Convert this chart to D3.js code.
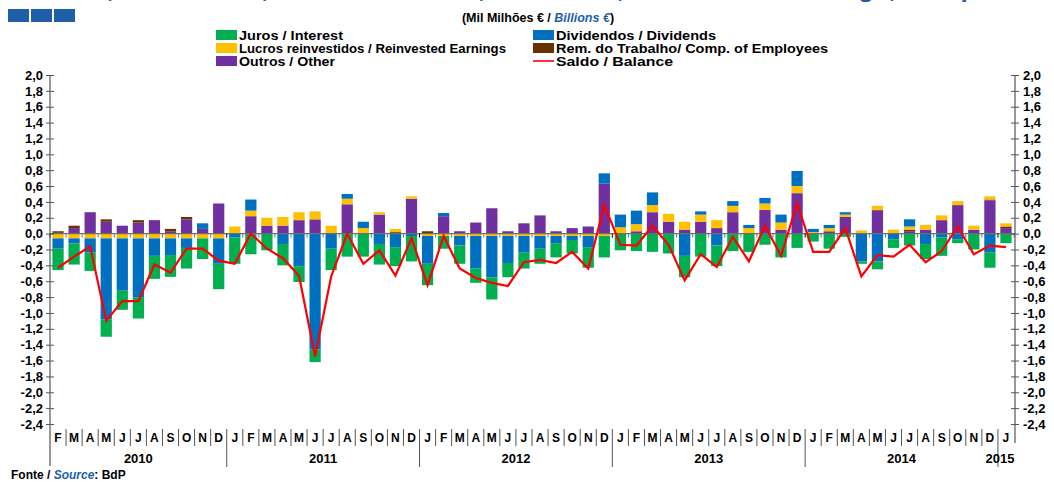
<!DOCTYPE html>
<html>
<head>
<meta charset="utf-8">
<script src="https://cdn.jsdelivr.net/npm/d3@7"></script>
<style>
  html, body { margin: 0; padding: 0; background: #fff; overflow: hidden; }
  svg { display: block; }
  text { font-family: "Liberation Sans", Arial, sans-serif; }
</style>
</head>
<body>
<svg id="chart" width="1054" height="482"></svg>
<script>
// ---------------- DATA ----------------
const monthLabels = ["F","M","A","M","J","J","A","S","O","N","D",
  "J","F","M","A","M","J","J","A","S","O","N","D",
  "J","F","M","A","M","J","J","A","S","O","N","D",
  "J","F","M","A","M","J","J","A","S","O","N","D",
  "J","F","M","A","M","J","J","A","S","O","N","D",
  "J"];
const yearLabels = ["2010","2011","2012","2013","2014","2015"];
const yearFirstIndex = [0, 11, 23, 35, 47, 59];

const juros = [-0.27,-0.265,-0.23,-0.22,-0.24,-0.27,-0.29,-0.275,-0.26,-0.26,-0.32,
  -0.33,-0.26,-0.21,-0.27,-0.20,-0.16,-0.27,-0.29,-0.29,-0.26,-0.24,-0.32,
  -0.27,-0.16,-0.23,-0.18,-0.28,-0.18,-0.20,-0.19,-0.18,-0.17,-0.26,-0.27,
  -0.21,-0.22,-0.23,-0.25,-0.27,-0.29,-0.26,-0.22,-0.23,-0.14,-0.30,-0.18,
  -0.10,-0.19,-0.04,-0.03,-0.10,-0.11,-0.15,-0.19,-0.23,-0.05,-0.20,-0.19,
  -0.12];
const dividendos = [-0.13,-0.065,-0.18,-1.02,-0.66,-0.74,-0.22,-0.21,-0.12,0.07,-0.32,
  -0.05,0.14,0,-0.13,-0.41,-1.46,-0.19,0.06,0.08,-0.13,-0.17,-0.03,
  -0.35,0.04,-0.12,-0.41,-0.52,-0.34,-0.21,-0.16,-0.09,-0.05,-0.14,0.13,
  0.16,0.17,0.16,0,-0.28,0.04,-0.15,0.06,0.04,0.07,0.10,0.19,
  0.04,0.04,0.03,-0.35,-0.35,-0.07,0.09,-0.13,-0.05,-0.07,0,-0.24,
  0];
const lucros = [-0.06,-0.06,-0.06,-0.06,-0.06,-0.06,-0.06,-0.06,-0.06,-0.06,-0.06,
  0.09,0.07,0.10,0.11,0.10,0.10,0.10,0.07,0.07,0.03,0.04,0.03,
  -0.03,-0.03,-0.03,-0.03,-0.03,-0.03,-0.03,-0.03,-0.03,-0.03,-0.03,-0.03,
  0.08,0.09,0.09,0.10,0.10,0.09,0.10,0.08,0.07,0.08,0.09,0.09,
  0.02,0.04,0.03,0.04,0.05,0.05,0.04,0.06,0.06,0.05,0.05,0.04,
  0.04];
const remuneracoes = [0.02,0.03,0,0.03,0,0.03,0,0.03,0.03,0,0,
  0,0,0,0,0,0,0,0,0,0,0.01,0,
  0.03,0,0,0,0,0,0,0,0,0,0,0,
  0,0,0,0,0,0,0,0,0,0,0,0,
  0,0,0,0,0.01,0,0.02,0,0,0,0,0.01,
  0.02];
const outros = [0.01,0.07,0.27,0.15,0.10,0.14,0.17,0.03,0.18,0.06,0.38,
  0,0.22,0.10,0.10,0.17,0.18,0,0.37,0,0.24,0.01,0.44,
  0,0.22,0.03,0.14,0.32,0.03,0.13,0.23,0.03,0.07,0.09,0.63,
  0,0.03,0.27,0.15,0.05,0.15,0.07,0.27,0,0.30,0.05,0.51,
  0,0.03,0.21,0,0.29,0,0.03,0.05,0.17,0.36,0.05,0.42,
  0.07];
const saldo = [-0.43,-0.29,-0.16,-1.10,-0.85,-0.85,-0.39,-0.49,-0.19,-0.19,-0.34,
  -0.38,0.0,-0.19,-0.31,-0.53,-1.55,-0.54,0.0,-0.38,-0.21,-0.53,-0.06,
  -0.65,-0.03,-0.44,-0.56,-0.62,-0.66,-0.36,-0.33,-0.37,-0.23,-0.44,0.36,
  -0.14,-0.15,0.10,-0.14,-0.59,-0.26,-0.42,-0.04,-0.35,0.10,-0.28,0.38,
  -0.23,-0.23,0.07,-0.54,-0.27,-0.29,-0.14,-0.36,-0.22,0.09,-0.26,-0.15,
  -0.17];
const yTicks = [-2.4,-2.2,-2.0,-1.8,-1.6,-1.4,-1.2,-1.0,-0.8,-0.6,-0.4,-0.2,0,0.2,0.4,0.6,0.8,1.0,1.2,1.4,1.6,1.8,2.0];

const seriesNames = {
  juros: "Juros / Interest",
  dividendos: "Dividendos / Dividends",
  lucros: "Lucros reinvestidos / Reinvested Earnings",
  remuneracoes: "Rem. do Trabalho/ Comp. of Employees",
  outros: "Outros / Other",
  saldo: "Saldo / Balance"
};
const colors = {
  juros: "#00b050", dividendos: "#0070c0", lucros: "#ffc000",
  remuneracoes: "#663300", outros: "#7030a0", saldo: "#ff0000"
};

// ---------------- BUILD ----------------
const rows = monthLabels.map((m, i) => ({
  i, juros: juros[i], dividendos: dividendos[i], lucros: lucros[i],
  remuneracoes: remuneracoes[i], outros: outros[i]
}));
const stackKeys = ["outros","remuneracoes","lucros","dividendos","juros"];
const stacked = d3.stack().keys(stackKeys).offset(d3.stackOffsetDiverging)(rows);

const svg = d3.select("#chart");
const L = 50, R = 1014, T = 75, B = 424;

const x = d3.scaleBand().domain(d3.range(monthLabels.length)).range([L, R])
  .paddingInner(0.3).paddingOuter(0.15);
const y = d3.scaleLinear().domain([-2.4, 2.0]).range([B, T]);
const fmt = v => d3.format(".1f")(v).replace("−","-").replace(".", ",");

// title (cut at the top edge, only the lower part shows, as in the source image)
svg.append("text").attr("x", 600).attr("y", -3).attr("text-anchor", "middle")
  .attr("font-size", 26).attr("font-weight", "bold").attr("fill", "#1f5fa8")
  .attr("font-style", "italic")
  .text("Juros, Dividendos, Lucros / Interest, Dividends, Reinvested Earnings, Comp. of Employees");

// bars
svg.append("g").selectAll("g").data(stacked).join("g")
  .attr("fill", d => colors[d.key])
  .selectAll("rect").data(d => d).join("rect")
  .attr("x", d => x(d.data.i))
  .attr("width", x.bandwidth())
  .attr("y", d => y(Math.max(d[0], d[1])))
  .attr("height", d => Math.abs(y(d[0]) - y(d[1])));

// zero line with month ticks
const y0 = y(0);
svg.append("line").attr("x1", L).attr("x2", R + 1).attr("y1", y0).attr("y2", y0)
  .attr("stroke", "#6e6e6e").attr("stroke-width", 1.3);
svg.append("g").selectAll("line").data(d3.range(monthLabels.length + 1)).join("line")
  .attr("x1", i => L + i * x.step()).attr("x2", i => L + i * x.step())
  .attr("y1", y0).attr("y2", y0 + 4)
  .attr("stroke", (i) => yearFirstIndex.includes(i) ? "#000" : "#777").attr("stroke-width", 1);

// saldo line
const line = d3.line().x((d, i) => x(i) + x.bandwidth() / 2).y(d => y(d));
svg.append("path").datum(saldo).attr("d", line)
  .attr("fill", "none").attr("stroke", colors.saldo).attr("stroke-width", 2.2)
  .attr("stroke-linejoin", "miter");

// y axes
function styleAxis(g, side) {
  g.select(".domain").remove();
  g.selectAll(".tick line").attr("x1", -4).attr("x2", 4).attr("stroke", "#555");
  g.selectAll(".tick text").attr("font-weight", "bold").attr("font-size", 13)
    .attr("fill", "#000").attr("font-family", "'Liberation Sans', Arial, sans-serif")
    .attr("x", side === "left" ? -7 : 8);
}
const axL = svg.append("g").attr("transform", `translate(${L},0)`)
  .call(d3.axisLeft(y).tickValues(yTicks).tickFormat(fmt).tickSize(4));
styleAxis(axL, "left");
const axR = svg.append("g").attr("transform", `translate(${R + 1},0)`)
  .call(d3.axisRight(y).tickValues(yTicks).tickFormat(fmt).tickSize(4));
styleAxis(axR, "right");
svg.append("line").attr("x1", L).attr("x2", L).attr("y1", T).attr("y2", 466)
  .attr("stroke", "#555").attr("stroke-width", 1.2);
svg.append("line").attr("x1", R + 1).attr("x2", R + 1).attr("y1", T).attr("y2", 443)
  .attr("stroke", "#555").attr("stroke-width", 1.2);

// month labels and separators
svg.append("g").selectAll("text").data(monthLabels).join("text")
  .attr("x", (d, i) => x(i) + x.bandwidth() / 2).attr("y", 442)
  .attr("text-anchor", "middle").attr("font-size", 12).attr("font-weight", "bold")
  .text(d => d);
svg.append("g").selectAll("line").data(d3.range(1, monthLabels.length)).join("line")
  .attr("x1", i => L + i * x.step()).attr("x2", i => L + i * x.step())
  .attr("y1", 429).attr("y2", i => yearFirstIndex.includes(i) ? 467 : 446)
  .attr("stroke", "#555").attr("stroke-width", 1);

// year labels
svg.append("g").selectAll("text").data(yearLabels).join("text")
  .attr("x", (d, k) => {
    const a = yearFirstIndex[k];
    const b = k + 1 < yearFirstIndex.length ? yearFirstIndex[k + 1] : monthLabels.length;
    return k === yearLabels.length - 1 ? L + a * x.step() + 2 : L + (a + b) / 2 * x.step();
  })
  .attr("y", 463).attr("text-anchor", "middle").attr("font-size", 13).attr("font-weight", "bold")
  .text(d => d);

// logo squares
svg.append("g").selectAll("rect").data([0, 1, 2]).join("rect")
  .attr("x", k => 8 + k * 23).attr("y", 9).attr("width", 21).attr("height", 13)
  .attr("fill", "#1f5fa8");

// subtitle
const sub = svg.append("text").attr("x", 538).attr("y", 22)
  .attr("text-anchor", "middle").attr("font-size", 12.5).attr("font-weight", "bold");
sub.append("tspan").text("(Mil Milhões € / ");
sub.append("tspan").attr("fill", "#1f5fa8").attr("font-style", "italic").text("Billions  €");
sub.append("tspan").text(")");

// legend
const legendItems = [
  { key: "juros", x: 216, y: 35 }, { key: "dividendos", x: 533, y: 35 },
  { key: "lucros", x: 216, y: 48 }, { key: "remuneracoes", x: 533, y: 48 },
  { key: "outros", x: 216, y: 61 }, { key: "saldo", x: 533, y: 61 }
];
const lg = svg.append("g").selectAll("g").data(legendItems).join("g")
  .attr("transform", d => `translate(${d.x},${d.y})`);
lg.filter(d => d.key !== "saldo").append("rect")
  .attr("x", 0).attr("y", -5).attr("width", 21).attr("height", 10)
  .attr("fill", d => colors[d.key]);
lg.filter(d => d.key === "saldo").append("line")
  .attr("x1", 0).attr("x2", 21).attr("y1", 0).attr("y2", 0)
  .attr("stroke", colors.saldo).attr("stroke-width", 1.6);
lg.append("text").attr("x", 23).attr("y", 5)
  .attr("font-size", 13.5).attr("font-weight", "bold").attr("textLength", d => ({
    juros: 104, dividendos: 160, lucros: 267, remuneracoes: 272, outros: 96, saldo: 117
  })[d.key]).attr("lengthAdjust", "spacingAndGlyphs")
  .text(d => seriesNames[d.key]);

// source
const src = svg.append("text").attr("x", 11).attr("y", 479)
  .attr("font-size", 12).attr("font-weight", "bold");
src.append("tspan").text("Fonte / ");
src.append("tspan").attr("fill", "#1f5fa8").attr("font-style", "italic").text("Source");
src.append("tspan").text(":  BdP");
</script>
</body>
</html>
